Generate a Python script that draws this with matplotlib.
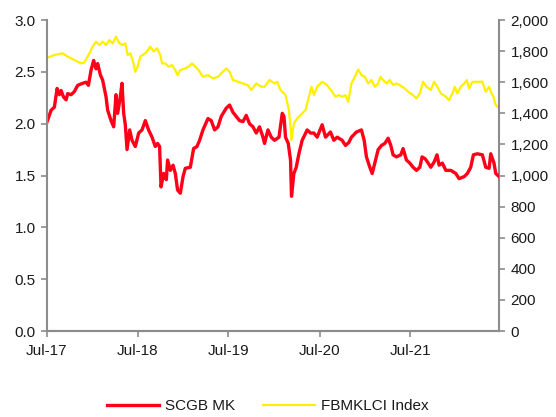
import matplotlib
matplotlib.use("Agg")
import matplotlib.pyplot as plt
from matplotlib.ticker import FuncFormatter, MultipleLocator
import pandas as pd

plt.rcParams['font.family'] = ['Liberation Sans', 'DejaVu Sans']

# SCGB MK share price (left axis); dates given as decimal years
scgb_years = [2017.500, 2017.544, 2017.580, 2017.610, 2017.635, 2017.654, 2017.679, 2017.709,
              2017.726, 2017.764, 2017.800, 2017.836, 2017.891, 2017.929, 2017.954, 2017.984,
              2018.012, 2018.038, 2018.056, 2018.086, 2018.111, 2018.148, 2018.166, 2018.203,
              2018.232, 2018.258, 2018.276, 2018.305, 2018.324, 2018.342, 2018.360, 2018.379,
              2018.408, 2018.434, 2018.470, 2018.507, 2018.544, 2018.580, 2018.616, 2018.654,
              2018.690, 2018.715, 2018.737, 2018.753, 2018.781, 2018.811, 2018.825, 2018.855,
              2018.885, 2018.910, 2018.935, 2018.965, 2018.995, 2019.020, 2019.075, 2019.111,
              2019.148, 2019.177, 2019.214, 2019.269, 2019.305, 2019.342, 2019.379, 2019.415,
              2019.470, 2019.507, 2019.544, 2019.580, 2019.616, 2019.654, 2019.690, 2019.726,
              2019.764, 2019.800, 2019.836, 2019.874, 2019.891, 2019.929, 2019.965, 2020.001,
              2020.050, 2020.086, 2020.105, 2020.122, 2020.152, 2020.177, 2020.188, 2020.214,
              2020.240, 2020.269, 2020.305, 2020.360, 2020.397, 2020.434, 2020.470, 2020.525,
              2020.562, 2020.616, 2020.654, 2020.690, 2020.745, 2020.782, 2020.819, 2020.847,
              2020.902, 2020.957, 2020.987, 2021.012, 2021.049, 2021.075, 2021.104, 2021.141,
              2021.177, 2021.214, 2021.251, 2021.280, 2021.305, 2021.342, 2021.390, 2021.415,
              2021.452, 2021.489, 2021.525, 2021.562, 2021.599, 2021.624, 2021.660, 2021.691,
              2021.720, 2021.756, 2021.788, 2021.811, 2021.847, 2021.885, 2021.940, 2021.995,
              2022.031, 2022.087, 2022.122, 2022.159, 2022.188, 2022.232, 2022.287, 2022.324,
              2022.361, 2022.379, 2022.415, 2022.434, 2022.471]
scgb_values = [2.02, 2.13, 2.16, 2.34, 2.28, 2.32, 2.26, 2.23,
               2.29, 2.28, 2.31, 2.37, 2.39, 2.40, 2.37, 2.52,
               2.61, 2.53, 2.58, 2.47, 2.42, 2.26, 2.13, 2.03,
               1.97, 2.28, 2.10, 2.26, 2.39, 2.10, 1.99, 1.75,
               1.94, 1.84, 1.78, 1.91, 1.94, 2.03, 1.94, 1.87,
               1.78, 1.81, 1.78, 1.39, 1.52, 1.46, 1.65, 1.55,
               1.60, 1.52, 1.36, 1.33, 1.49, 1.57, 1.58, 1.76,
               1.78, 1.84, 1.94, 2.05, 2.03, 1.94, 1.97, 2.07,
               2.15, 2.18, 2.11, 2.07, 2.03, 2.02, 2.08, 2.00,
               1.97, 1.91, 1.97, 1.87, 1.81, 1.94, 1.87, 1.84,
               1.87, 2.10, 2.07, 1.87, 1.81, 1.65, 1.30, 1.52,
               1.58, 1.71, 1.84, 1.94, 1.91, 1.91, 1.87, 1.99,
               1.87, 1.92, 1.84, 1.87, 1.84, 1.79, 1.82, 1.87,
               1.92, 1.94, 1.84, 1.68, 1.58, 1.52, 1.62, 1.75,
               1.79, 1.81, 1.86, 1.79, 1.70, 1.68, 1.70, 1.76,
               1.65, 1.62, 1.58, 1.55, 1.58, 1.68, 1.66, 1.62,
               1.58, 1.63, 1.70, 1.60, 1.62, 1.55, 1.55, 1.52,
               1.47, 1.49, 1.52, 1.58, 1.70, 1.71, 1.70, 1.58,
               1.57, 1.71, 1.62, 1.52, 1.49]

# FBMKLCI Index (right axis)
klci_years = [2017.500, 2017.580, 2017.671, 2017.726, 2017.800, 2017.874, 2017.910, 2017.965,
              2018.001, 2018.038, 2018.075, 2018.111, 2018.148, 2018.185, 2018.221, 2018.258,
              2018.295, 2018.335, 2018.360, 2018.386, 2018.415, 2018.445, 2018.470, 2018.496,
              2018.525, 2018.580, 2018.635, 2018.671, 2018.709, 2018.745, 2018.764, 2018.800,
              2018.836, 2018.874, 2018.910, 2018.935, 2018.965, 2019.020, 2019.056, 2019.093,
              2019.130, 2019.166, 2019.214, 2019.269, 2019.324, 2019.379, 2019.415, 2019.470,
              2019.507, 2019.544, 2019.599, 2019.654, 2019.709, 2019.745, 2019.800, 2019.855,
              2019.891, 2019.946, 2020.001, 2020.031, 2020.067, 2020.122, 2020.159, 2020.177,
              2020.188, 2020.214, 2020.251, 2020.305, 2020.342, 2020.379, 2020.408, 2020.434,
              2020.470, 2020.525, 2020.580, 2020.635, 2020.671, 2020.709, 2020.745, 2020.782,
              2020.811, 2020.847, 2020.885, 2020.921, 2020.957, 2020.995, 2021.031, 2021.067,
              2021.104, 2021.141, 2021.166, 2021.196, 2021.232, 2021.269, 2021.305, 2021.342,
              2021.379, 2021.434, 2021.470, 2021.525, 2021.562, 2021.599, 2021.635, 2021.672,
              2021.720, 2021.756, 2021.792, 2021.830, 2021.885, 2021.921, 2021.957, 2021.984,
              2022.012, 2022.049, 2022.087, 2022.115, 2022.141, 2022.177, 2022.232, 2022.287,
              2022.324, 2022.361, 2022.379, 2022.408, 2022.434, 2022.471]
klci_values = [1757, 1775, 1786, 1765, 1743, 1721, 1727, 1786,
               1829, 1861, 1839, 1861, 1839, 1871, 1850, 1893,
               1850, 1839, 1850, 1775, 1786, 1732, 1667, 1700,
               1765, 1786, 1829, 1797, 1818, 1775, 1721, 1721,
               1700, 1710, 1678, 1646, 1678, 1689, 1700, 1721,
               1700, 1678, 1635, 1646, 1625, 1635, 1657, 1689,
               1667, 1614, 1603, 1592, 1581, 1550, 1592, 1571,
               1571, 1614, 1592, 1603, 1550, 1517, 1421, 1314,
               1228, 1335, 1368, 1400, 1421, 1507, 1571, 1517,
               1571, 1603, 1581, 1539, 1507, 1517, 1507, 1517,
               1474, 1592, 1635, 1682, 1646, 1635, 1592, 1614,
               1571, 1592, 1635, 1614, 1592, 1614, 1581, 1592,
               1581, 1560, 1539, 1517, 1496, 1528, 1603, 1571,
               1550, 1603, 1571, 1528, 1507, 1485, 1528, 1571,
               1528, 1571, 1592, 1614, 1560, 1603, 1603, 1603,
               1539, 1571, 1539, 1507, 1453, 1432]

tick_dates = ["2017-07-01", "2018-07-01", "2019-07-01", "2020-07-01", "2021-07-01"]
tick_labels = ["Jul-17", "Jul-18", "Jul-19", "Jul-20", "Jul-21"]

RED = "#FF0018"
YELLOW = "#FFF000"
GRAY = "#8C8C8C"
TXT = "#1A1A1A"


def to_dates(years):
    base = pd.Timestamp("2017-01-01")
    return [base + pd.Timedelta(days=(y - 2017) * 365.25) for y in years]


fig = plt.figure(figsize=(5.56, 4.17), dpi=100)
ax = fig.add_axes([0.084, 0.206, 0.814, 0.746])
ax2 = ax.twinx()

l2, = ax2.plot(to_dates(klci_years), klci_values, color=YELLOW, lw=1.6,
               label="FBMKLCI Index", solid_joinstyle='round')
l1, = ax.plot(to_dates(scgb_years), scgb_values, color=RED, lw=2.4,
              label="SCGB MK", solid_joinstyle='round')
ax.set_zorder(ax2.get_zorder() + 1)
ax.patch.set_visible(False)

ax.set_xlim(to_dates([2017.496, 2022.473]))
ax.set_ylim(0, 3.0)
ax2.set_ylim(0, 2000)
ax.yaxis.set_major_locator(MultipleLocator(0.5))
ax.yaxis.set_major_formatter(FuncFormatter(lambda v, p: f"{v:.1f}"))
ax2.yaxis.set_major_locator(MultipleLocator(200))
ax2.yaxis.set_major_formatter(FuncFormatter(lambda v, p: f"{int(v):,}"))

ax.set_xticks(pd.to_datetime(tick_dates))
ax.set_xticklabels(tick_labels)

for a in (ax, ax2):
    a.spines['top'].set_visible(False)
    for s in ('left', 'right', 'bottom'):
        a.spines[s].set_color(GRAY)
        a.spines[s].set_linewidth(1.5)
    a.tick_params(colors=GRAY, labelcolor=TXT, labelsize=11, length=4, width=1.2)
ax.tick_params(axis='x', pad=5)
ax.tick_params(axis='y', pad=4)
ax2.tick_params(axis='y', pad=4)
ax2.spines['left'].set_visible(False)
ax.spines['right'].set_visible(False)

fig.legend([l1, l2], ["SCGB MK", "FBMKLCI Index"], loc='center',
           bbox_to_anchor=(268 / 556, 1 - 406 / 417), ncol=2, frameon=False,
           fontsize=11, handlelength=3.4, columnspacing=1.8, handletextpad=0.4,
           labelcolor=TXT)

fig.savefig("out.png", dpi=100)
